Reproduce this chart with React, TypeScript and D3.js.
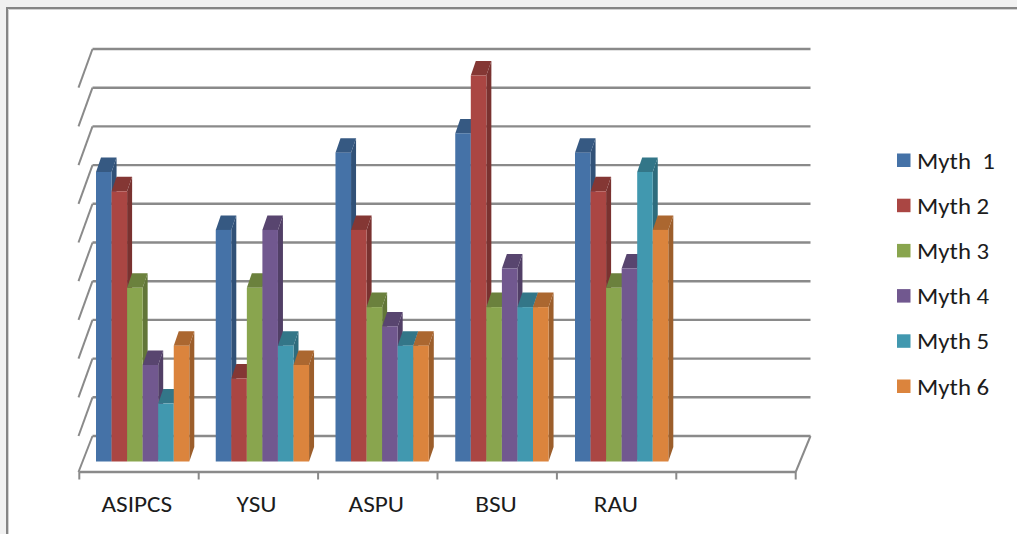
import React from "react";
import * as d3 from "d3";

const categories = ["ASIPCS", "YSU", "ASPU", "BSU", "RAU", ""];
const seriesNames = ["Myth  1", "Myth 2", "Myth 3", "Myth 4", "Myth 5", "Myth 6"];
const myth1 = [15, 12, 16, 17, 16];
const myth2 = [14, 4.3, 12, 20, 14];
const myth3 = [9, 9, 8, 8, 9];
const myth4 = [5, 12, 7, 10, 10];
const myth5 = [3, 6, 6, 8, 15];
const myth6 = [6, 5, 6, 8, 12];
const allSeries = [myth1, myth2, myth3, myth4, myth5, myth6];
const gridValues = d3.range(0, 22, 2);

const frontColors = ["#4572a7", "#aa4643", "#89a54e", "#71588f", "#4198af", "#db843d"];

const FONT = "Carlito, Calibri, Lato, 'Open Sans', sans-serif";
const GRID = "#8a8a8a";
const INK = "#1c1c1c";

// Back wall and floor of the 3D plot box
const wall = { left: 92.5, right: 810.5, top: 49, bottom: 436 };
const floor = { left: 79.3, right: 795.7, y: 472 };
const barDepth = { dx: 5, dy: -14.5 };
const barBase = 461.5;

const yWall = d3.scaleLinear().domain([0, 20]).range([wall.bottom, wall.top]);
const yBar = d3.scaleLinear().domain([0, 20]).range([barBase, barBase - 386]);
const xGroup = d3
  .scaleBand<string>()
  .domain(categories.map((_, i) => `${i}`))
  .range([78.5, 797]);
const xTick = d3.scaleLinear().domain([0, categories.length]).range([floor.left, floor.right]);
const barWidth = 15.55;
const groupInset = 17.5;

const poly = (pts: [number, number][]) => pts.map((p) => p.join(",")).join(" ");

// Calibri-like text, widened a little along x
function WideText(props: { x: number; y: number; size: number; scale: number; anchor?: string; children: string }) {
  const { x, y, size, scale, anchor, children } = props;
  return (
    <text
      transform={`translate(${x},${y}) scale(${scale},1)`}
      textAnchor={anchor ?? "start"}
      fontFamily={FONT}
      fontSize={size}
      fill={INK}
      style={{ whiteSpace: "pre" }}
    >
      {children}
    </text>
  );
}

export default function App() {
  const ticks = d3.range(0, categories.length + 1).map((i) => xTick(i));
  const wallStep = yWall(0) - yWall(2);
  return (
    <svg
      width={1017}
      height={534}
      viewBox="0 0 1017 534"
      style={{ position: "absolute", left: 0, top: 0, background: "#fff" }}
    >
      <rect x={0} y={0} width={1017} height={7} fill="#f1f1f1" />
      <rect x={0} y={0} width={6} height={534} fill="#f1f1f1" />
      <path d="M7 534V8H1017" fill="none" stroke="#858585" strokeWidth={2} />
      <path d="M8.5 534V9.5H1017" fill="none" stroke="#d2d2d2" strokeWidth={1} />

      {gridValues.map((v) => {
        const y = yWall(v);
        const frontY = v === 0 ? floor.y : y + wallStep;
        return (
          <g key={v} fill="none" stroke={GRID} strokeWidth={2.4}>
            <line x1={wall.left} x2={wall.right} y1={y} y2={y} />
            <line x1={wall.left} y1={y} x2={wall.left - 14} y2={frontY} strokeWidth={2} />
          </g>
        );
      })}
      <line x1={wall.right} y1={wall.bottom} x2={floor.right} y2={floor.y} stroke={GRID} strokeWidth={2} />
      <line x1={floor.left} x2={floor.right} y1={floor.y} y2={floor.y} stroke={GRID} strokeWidth={2.4} />
      {ticks.map((t, i) => (
        <line key={i} x1={t} x2={t} y1={floor.y} y2={floor.y + 7.5} stroke={GRID} strokeWidth={2} />
      ))}

      {categories.slice(0, 5).map((cat, c) => {
        const band = xGroup(`${c}`) as number;
        const gx = band + groupInset;
        return (
          <g key={cat}>
            {allSeries.map((values, s) => {
              const x0 = gx + s * barWidth;
              const x1 = x0 + barWidth;
              const yt = yBar(values[c]);
              const color = d3.color(frontColors[s]) as d3.RGBColor;
              return (
                <g key={s}>
                  <polygon
                    points={poly([
                      [x1, yt],
                      [x1 + barDepth.dx, yt + barDepth.dy],
                      [x1 + barDepth.dx, barBase + barDepth.dy],
                      [x1, barBase],
                    ])}
                    fill={color.darker(0.95).formatHex()}
                  />
                  <polygon
                    points={poly([
                      [x0, yt],
                      [x0 + barDepth.dx, yt + barDepth.dy],
                      [x1 + barDepth.dx, yt + barDepth.dy],
                      [x1, yt],
                    ])}
                    fill={color.darker(0.7).formatHex()}
                  />
                  <rect x={x0} y={yt} width={barWidth} height={barBase - yt} fill={frontColors[s]} />
                </g>
              );
            })}
            <WideText x={band + xGroup.bandwidth() / 2 - 1.6} y={512} size={22} scale={1.15} anchor="middle">
              {cat}
            </WideText>
          </g>
        );
      })}

      {seriesNames.map((name, i) => {
        const top = 153.5 + i * 45.2;
        return (
          <g key={name}>
            <rect x={897} y={top} width={13.5} height={13.5} fill={frontColors[i]} />
            <WideText x={917} y={top + 15} size={22} scale={1.13}>
              {name}
            </WideText>
          </g>
        );
      })}
    </svg>
  );
}
